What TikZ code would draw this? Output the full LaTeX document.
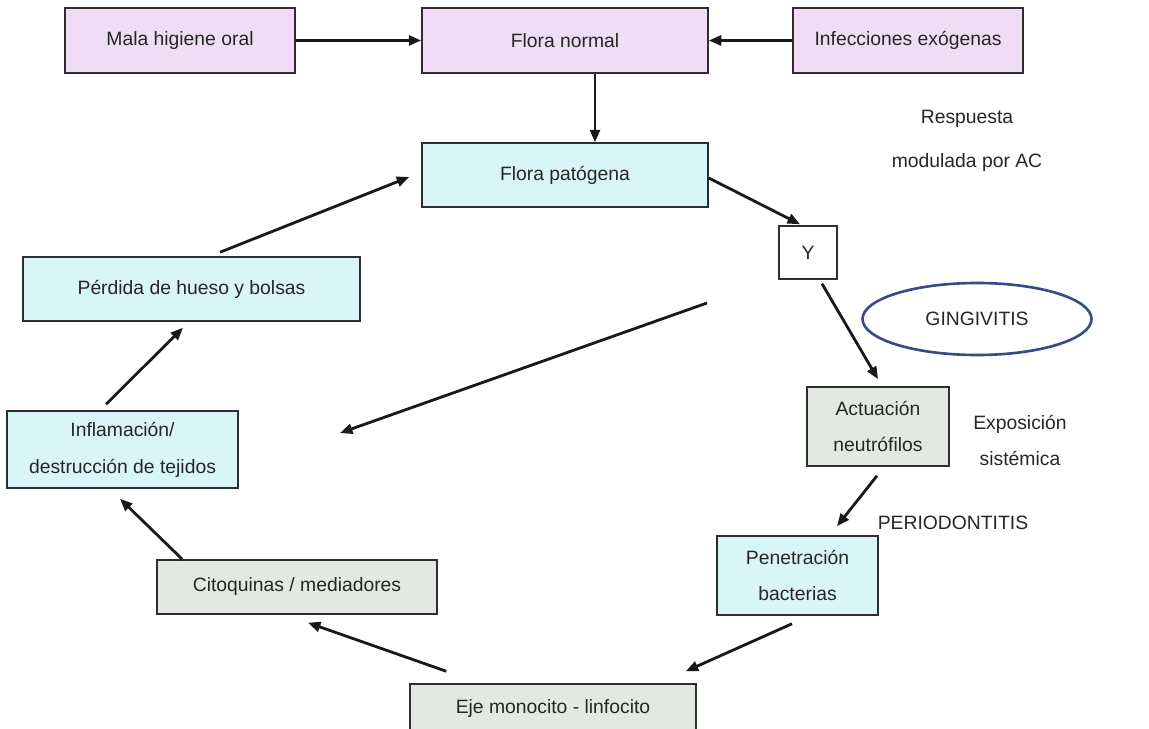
\documentclass[tikz,border=0pt]{standalone}
\usepackage{fontspec}
\setmainfont{Liberation Sans}
\usetikzlibrary{arrows.meta,calc,shapes.geometric}
\definecolor{lila}{HTML}{F1DCF6}
\definecolor{celeste}{HTML}{D8F5F8}
\definecolor{gris}{HTML}{E3E8E3}
\definecolor{boxline}{HTML}{2E2E2E}
\definecolor{txt}{HTML}{262626}
\definecolor{ellblue}{HTML}{3B4A82}
\begin{document}
\begin{tikzpicture}[x=0.02cm,y=-0.02cm,
  box/.style 2 args={draw=boxline, line width=0.85pt, minimum width=#1*0.02cm, minimum height=#2*0.02cm, inner sep=0pt, align=center, text=txt, font=\fontsize{11}{21}\selectfont},
  lbl/.style={align=center, text=txt, inner sep=0pt, font=\fontsize{11}{20.5}\selectfont},
  arr/.style={draw=black!90, line width=1.6pt, -{Triangle[length=2.5mm,width=2mm]}},
  ell/.style={ellipse, draw=ellblue, line width=1.5pt, minimum width=229*0.02cm, minimum height=72*0.02cm, text=txt, font=\fontsize{11}{21}\selectfont}
]
\useasboundingbox (0,0) rectangle (1149,729);
\clip (0,0) rectangle (1149,729);
\fill[white] (0,0) rectangle (1149,729);

% nodes
\node[box={230}{65}, fill=lila] (mala) at (180,40.5) {Mala higiene oral};
\node[box={286}{65}, fill=lila] (fnormal) at (565,40.5) {Flora normal};
\node[box={230}{65}, fill=lila] (infec) at (908,40.5) {Infecciones exógenas};
\node[box={286}{64}, fill=celeste] (fpat) at (565,175) {Flora patógena};
\node[box={58}{53}, fill=white] (Y) at (808,252.5) {Y};
\node[box={337}{64}, fill=celeste] (perdida) at (191.5,289) {Pérdida de hueso y bolsas};
\node[box={231}{77}, fill=celeste] (inflam) at (122.5,449.5) {Inflamación/\\destrucción de tejidos};
\node[box={142}{79}, fill=gris] (actu) at (878,426.5) {Actuación\\neutrófilos};
\node[box={161}{79}, fill=celeste] (pene) at (797.5,575.5) {Penetración\\bacterias};
\node[box={280}{54}, fill=gris] (cito) at (297,587) {Citoquinas / mediadores};
\node[box={286}{48}, fill=gris] (eje) at (553,708) {Eje monocito - linfocito};

\node[lbl] (resp) at (967,140.5) {Respuesta\\[4.5pt]modulada por AC};
\node[ell] (ging) at (977,319) {GINGIVITIS};
\node[lbl] (expo) at (1020,440) {Exposición\\sistémica};
\node[lbl] (perio) at (953,523) {PERIODONTITIS};

% connectors
\draw[arr] (mala) -- (fnormal);
\draw[arr] (infec) -- (fnormal);
\draw[arr] ($(fnormal.south)+(30,0)$) -- ($(fpat.north)+(30,0)$);
\draw[arr] ($(fpat.east)+(0,3)$) -- ($(Y.north)+(-8,-1)$);
\draw[arr] ($(Y.south)+(14,4)$) -- ($(actu.north)+(0,-7)$);
\coordinate (ls) at (707,303);
\coordinate (le) at (340,433);
\draw[arr] (ls) -- (le);
\draw[arr] ($(actu.south)+(-1,9)$) -- ($(pene.north)+(39.5,-9)$);
\draw[arr] ($(pene.south)+(-5.5,8)$) -- ($(eje.north east)+(-11,-12)$);
\draw[arr] ($(eje.north west)+(37,-12)$) -- ($(cito.south)+(11,8)$);
\draw[arr] ($(cito.north west)+(26,0)$) -- ($(inflam.south)+(-2.5,10)$);
\draw[arr] ($(inflam.north)+(-16.5,-6)$) -- ($(perdida.south)+(-8.5,6)$);
\draw[arr] ($(perdida.north)+(28.5,-4)$) -- ($(fpat.west)+(-12,2)$);
\end{tikzpicture}
\end{document}
